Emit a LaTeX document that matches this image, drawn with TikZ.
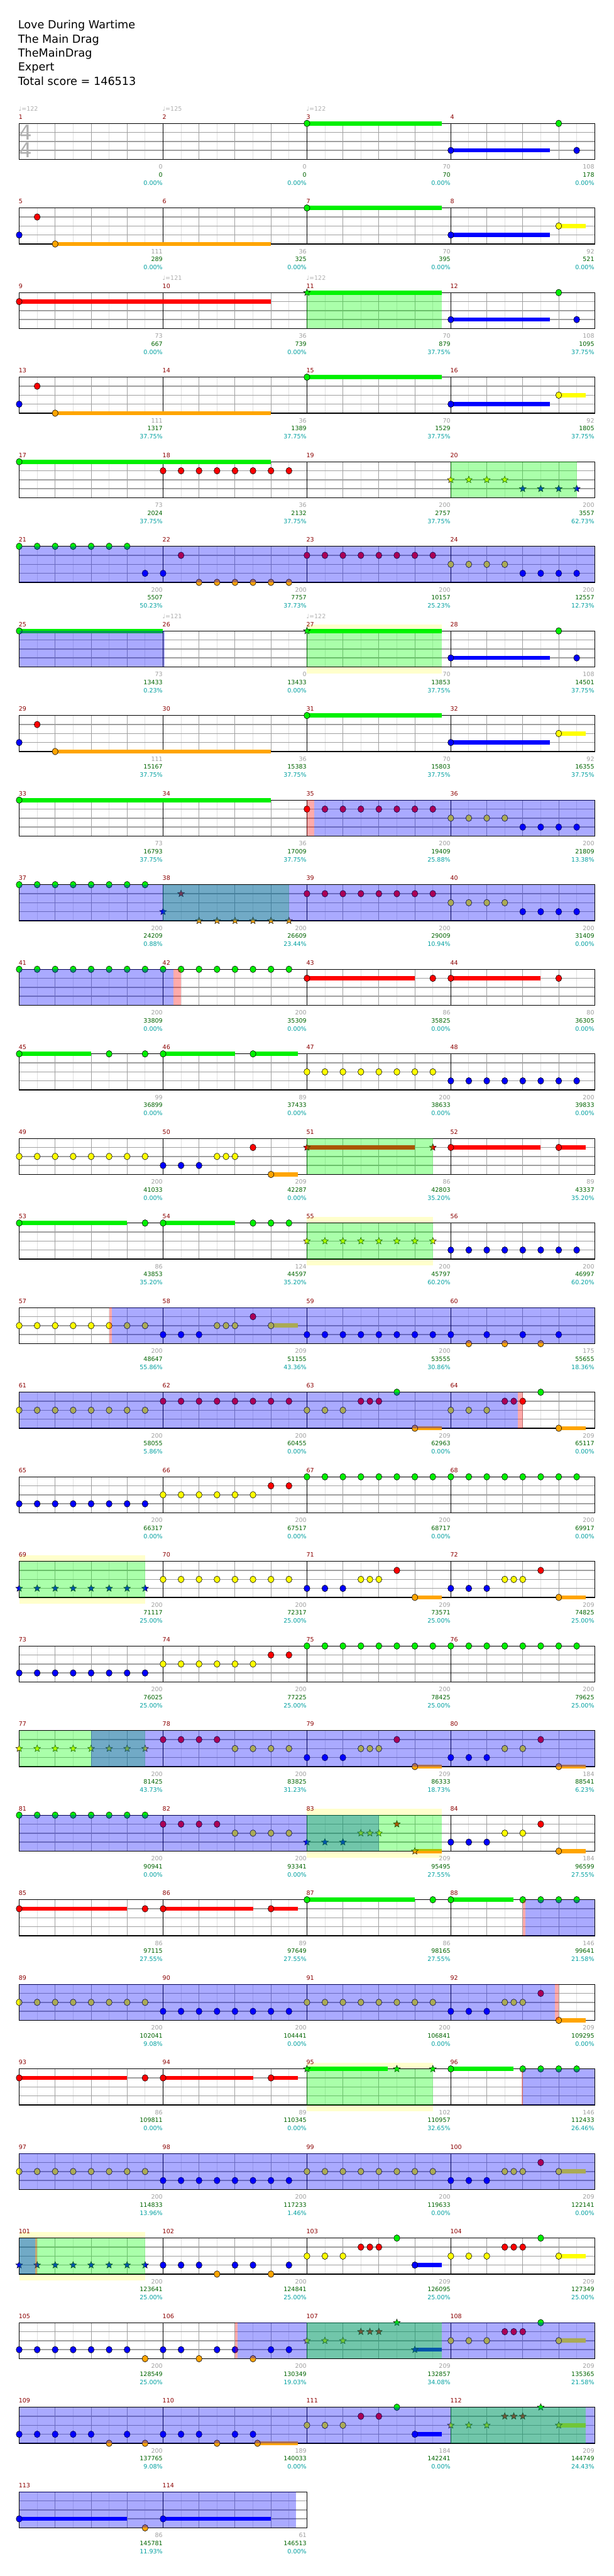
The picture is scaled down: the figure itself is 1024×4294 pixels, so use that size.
\documentclass[tikz,border=0pt]{standalone}
\usepackage{fontspec}
\setmainfont{DejaVu Sans}
\usetikzlibrary{shapes.geometric}
\definecolor{lane0}{RGB}{0,240,0}
\definecolor{lane1}{RGB}{255,0,0}
\definecolor{lane2}{RGB}{255,255,0}
\definecolor{lane3}{RGB}{0,0,255}
\definecolor{lane4}{RGB}{255,165,0}
\definecolor{spgreen}{RGB}{0,255,0}
\definecolor{spblue}{RGB}{0,0,255}
\definecolor{spred}{RGB}{255,0,0}
\definecolor{phrasebg}{RGB}{255,255,204}
\definecolor{gridlt}{RGB}{224,224,224}
\definecolor{gridmd}{RGB}{160,160,160}
\definecolor{barnum}{RGB}{139,0,0}
\definecolor{ptsgray}{RGB}{160,160,160}
\definecolor{totgreen}{RGB}{0,100,0}
\definecolor{pctteal}{RGB}{0,160,160}
\definecolor{sigray}{RGB}{175,175,175}

% staff of one row: row, measures
\newcommand{\drawstaff}[2]{%
  \pgfmathsetmacro\sty{205.7+141*#1}%
  \pgfmathsetmacro\stx{32+240*#2}%
  \pgfmathtruncatemacro\nk{8*#2-1}%
  \pgfmathtruncatemacro\nm{#2-1}%
  \fill[white] (32,\sty) rectangle (\stx,{\sty+60});
  \foreach \k in {1,3,...,\nk} \draw[eighth] ({32+30*\k},\sty) -- ++(0,60);
  \foreach \m in {1,...,#2} \foreach \b in {2,4,6} \draw[beat] ({32+240*(\m-1)+30*\b},\sty) -- ++(0,60);
  \foreach \l in {1,2,3} \draw[fretline] (32,{\sty+15*\l}) -- (\stx,{\sty+15*\l});
  \foreach \m in {1,...,\nm} \draw[barline] ({32+240*\m},\sty) -- ++(0,60);
  \draw[border] (32,\sty) rectangle (\stx,{\sty+60});
}
% notes: row, lane, positions in eighths
\newcommand{\frets}[3]{%
  \foreach \g in {#3} \draw[gem,fill=lane#2] ({32+30*\g},{205.7+141*#1+15*#2}) ellipse [x radius=5,y radius=5.5];}
\newcommand{\sfrets}[3]{%
  \foreach \g [count=\i] in {#3} \node[spstar,fill=lane#2] (star#1-#2-\i) at ({32+30*\g},{205.7+141*#1+15*#2}) {};}
% sustained notes: row, lane, start, length
\newcommand{\hold}[4]{%
  \fill[lane#2] ({32+30*#3},{202.2+141*#1+15*#2}) rectangle ++({30*#4},7);
  \frets{#1}{#2}{#3}}
\newcommand{\shold}[4]{%
  \fill[lane#2] ({32+30*#3},{202.2+141*#1+15*#2}) rectangle ++({30*#4},7);
  \sfrets{#1}{#2}{#3}}
\newcommand{\spzone}[4]{%
  \fill[#4,fill opacity=0.333] ({32+30*#2},{205.7+141*#1}) rectangle ({32+30*#3},{265.7+141*#1});}
\newcommand{\spphrase}[3]{%
  \fill[phrasebg] ({32+30*#2},{195+141*#1}) rectangle ({32+30*#3},{276.7+141*#1});}
% labels: row, list of measure score/total/meter
\newcommand{\barlabels}[2]{%
  \foreach \a/\b/\p [count=\c from 0] in {#2} {%
    \pgfmathtruncatemacro\mn{4*#1+\c+1}%
    \node[barno] (bar\mn) at ({31+240*\c},{198.3+141*#1}) {\mn};
    \node[pts] (pts\mn) at ({271.5+240*\c},{281.7+141*#1}) {\a};
    \node[tot] (tot\mn) at ({271.5+240*\c},{295+141*#1}) {\b};
    \node[pct] (pct\mn) at ({271.5+240*\c},{308.3+141*#1}) {\p\%};
  }}
\newcommand{\bpm}[3]{%
  \node[bpmmark] (bpm#1-#2) at ({31+240*#2},{185.3+141*#1}) {♩=#3};}

\begin{document}
\begin{tikzpicture}[x=1pt,y=-1pt,
  gem/.style={draw=black,line width=0.6pt},
  spstar/.style={star,star points=5,star point ratio=2.3,minimum size=12pt,inner sep=0pt,draw=black,line width=0.5pt},
  eighth/.style={draw=gridlt,line width=1pt},
  beat/.style={draw=gridmd,line width=1pt},
  fretline/.style={draw=gridmd,line width=1.5pt},
  barline/.style={draw=black,line width=0.8pt},
  border/.style={draw=black,line width=1.5pt},
  barno/.style={text=barnum,anchor=base west,inner sep=0pt,font=\fontsize{10}{12}\selectfont},
  pts/.style={text=ptsgray,anchor=base east,inner sep=0pt,font=\fontsize{10}{12}\selectfont},
  tot/.style={text=totgreen,anchor=base east,inner sep=0pt,font=\fontsize{10}{12}\selectfont},
  pct/.style={text=pctteal,anchor=base east,inner sep=0pt,font=\fontsize{10}{12}\selectfont},
  bpmmark/.style={text=sigray,anchor=base west,inner sep=0pt,font=\fontsize{10}{12}\selectfont},
  title/.style={anchor=base west,inner sep=0pt,font=\fontsize{18.5}{22}\selectfont},
  timesig/.style={text=sigray,inner sep=0pt,font=\fontsize{34}{34}\selectfont}]
\useasboundingbox (0,0) rectangle (1024,4294);
\fill[white] (0,0) rectangle (1024,4294);

\node[title] (song) at (30,48) {Love During Wartime};
\node[title] (artist) at (30,71.5) {The Main Drag};
\node[title] (charter) at (30,95) {TheMainDrag};
\node[title] (level) at (30,118.3) {Expert};
\node[title] (score) at (30,141.7) {Total score = 146513};

% row 1
\drawstaff{0}{4}
\node[timesig] (tsup) at (43,220.5) {4};
\node[timesig] (tsdown) at (43,250.5) {4};
\hold{0}{0}{16}{7.5} \frets{0}{0}{30}
\hold{0}{3}{24}{5.5} \frets{0}{3}{31}
\barlabels{0}{0/0/0.00, 0/0/0.00, 70/70/0.00, 108/178/0.00}
\bpm{0}{0}{122} \bpm{0}{1}{125} \bpm{0}{2}{122}

\drawstaff{1}{4}
\frets{1}{1}{1} \frets{1}{3}{0} \hold{1}{4}{2}{12}
\hold{1}{0}{16}{7.5} \hold{1}{3}{24}{5.5} \hold{1}{2}{30}{1.5}
\barlabels{1}{111/289/0.00, 36/325/0.00, 70/395/0.00, 92/521/0.00}

\drawstaff{2}{4}
\hold{2}{1}{0}{14}
\shold{2}{0}{16}{7.5} \frets{2}{0}{30}
\hold{2}{3}{24}{5.5} \frets{2}{3}{31}
\spzone{2}{16}{23.5}{spgreen}
\barlabels{2}{73/667/0.00, 36/739/0.00, 70/879/37.75, 108/1095/37.75}
\bpm{2}{1}{121} \bpm{2}{2}{122}

\drawstaff{3}{4}
\frets{3}{1}{1} \frets{3}{3}{0} \hold{3}{4}{2}{12}
\hold{3}{0}{16}{7.5} \hold{3}{3}{24}{5.5} \hold{3}{2}{30}{1.5}
\barlabels{3}{111/1317/37.75, 36/1389/37.75, 70/1529/37.75, 92/1805/37.75}

\drawstaff{4}{4}
\hold{4}{0}{0}{14} \frets{4}{1}{8,...,15}
\sfrets{4}{2}{24,...,27} \sfrets{4}{3}{28,...,31}
\spzone{4}{24}{31}{spgreen}
\barlabels{4}{73/2024/37.75, 36/2132/37.75, 200/2757/37.75, 200/3557/62.73}

\drawstaff{5}{4}
\frets{5}{0}{0,...,6} \frets{5}{3}{7,8} \frets{5}{1}{9} \frets{5}{4}{10,...,15}
\frets{5}{1}{16,...,23} \frets{5}{2}{24,...,27} \frets{5}{3}{28,...,31}
\spzone{5}{0}{32}{spblue}
\barlabels{5}{200/5507/50.23, 200/7757/37.73, 200/10157/25.23, 200/12557/12.73}

\spphrase{6}{16}{23.5}
\drawstaff{6}{4}
\hold{6}{0}{0}{8}
\shold{6}{0}{16}{7.5} \frets{6}{0}{30}
\hold{6}{3}{24}{5.5} \frets{6}{3}{31}
\spzone{6}{0}{8.1}{spblue} \spzone{6}{16}{23.5}{spgreen}
\barlabels{6}{73/13433/0.23, 0/13433/0.00, 70/13853/37.75, 108/14501/37.75}
\bpm{6}{1}{121} \bpm{6}{2}{122}

\drawstaff{7}{4}
\frets{7}{1}{1} \frets{7}{3}{0} \hold{7}{4}{2}{12}
\hold{7}{0}{16}{7.5} \hold{7}{3}{24}{5.5} \hold{7}{2}{30}{1.5}
\barlabels{7}{111/15167/37.75, 36/15383/37.75, 70/15803/37.75, 92/16355/37.75}

\drawstaff{8}{4}
\hold{8}{0}{0}{14}
\frets{8}{1}{16,...,23} \frets{8}{2}{24,...,27} \frets{8}{3}{28,...,31}
\spzone{8}{16}{16.4}{spred} \spzone{8}{16.4}{32}{spblue}
\barlabels{8}{73/16793/37.75, 36/17009/37.75, 200/19409/25.88, 200/21809/13.38}

\drawstaff{9}{4}
\frets{9}{0}{0,...,7} \sfrets{9}{3}{8} \sfrets{9}{1}{9} \sfrets{9}{4}{10,...,15}
\frets{9}{1}{16,...,23} \frets{9}{2}{24,...,27} \frets{9}{3}{28,...,31}
\spzone{9}{8}{15}{spgreen} \spzone{9}{0}{32}{spblue}
\barlabels{9}{200/24209/0.88, 200/26609/23.44, 200/29009/10.94, 200/31409/0.00}

\drawstaff{10}{4}
\frets{10}{0}{0,...,15}
\hold{10}{1}{16}{6} \frets{10}{1}{23} \hold{10}{1}{24}{5} \frets{10}{1}{30}
\spzone{10}{0}{8.57}{spblue} \spzone{10}{8.57}{9}{spred}
\barlabels{10}{200/33809/0.00, 200/35309/0.00, 86/35825/0.00, 80/36305/0.00}

\drawstaff{11}{4}
\hold{11}{0}{0}{4} \frets{11}{0}{5,7} \hold{11}{0}{8}{4} \hold{11}{0}{13}{2.5}
\frets{11}{2}{16,...,23} \frets{11}{3}{24,...,31}
\barlabels{11}{99/36899/0.00, 89/37433/0.00, 200/38633/0.00, 200/39833/0.00}

\drawstaff{12}{4}
\frets{12}{2}{0,...,7} \frets{12}{3}{8,9,10} \frets{12}{2}{11,11.5,12} \frets{12}{1}{13} \hold{12}{4}{14}{1.5}
\shold{12}{1}{16}{6} \sfrets{12}{1}{23} \hold{12}{1}{24}{5} \hold{12}{1}{30}{1.5}
\spzone{12}{16}{23}{spgreen}
\barlabels{12}{200/41033/0.00, 209/42287/0.00, 86/42803/35.20, 89/43337/35.20}

\spphrase{13}{16}{23}
\drawstaff{13}{4}
\hold{13}{0}{0}{6} \frets{13}{0}{7} \hold{13}{0}{8}{4} \frets{13}{0}{13,14,15}
\sfrets{13}{2}{16,...,23} \frets{13}{3}{24,...,31}
\spzone{13}{16}{23}{spgreen}
\barlabels{13}{86/43853/35.20, 124/44597/35.20, 200/45797/60.20, 200/46997/60.20}

\drawstaff{14}{4}
\frets{14}{2}{0,...,7} \frets{14}{3}{8,9,10} \frets{14}{2}{11,11.5,12} \frets{14}{1}{13} \hold{14}{2}{14}{1.5}
\frets{14}{3}{16,...,24} \frets{14}{3}{26,28,30} \frets{14}{4}{25,27,29}
\spzone{14}{5}{5.17}{spred} \spzone{14}{5.17}{32}{spblue}
\barlabels{14}{200/48647/55.86, 209/51155/43.36, 200/53555/30.86, 175/55655/18.36}

\drawstaff{15}{4}
\frets{15}{2}{0,...,7} \frets{15}{1}{8,...,15}
\frets{15}{2}{16,17,18} \frets{15}{1}{19,19.5,20} \frets{15}{0}{21} \hold{15}{4}{22}{1.5}
\frets{15}{2}{24,25,26} \frets{15}{1}{27,27.5,28} \frets{15}{0}{29} \hold{15}{4}{30}{1.5}
\spzone{15}{0}{27.74}{spblue} \spzone{15}{27.74}{28}{spred}
\barlabels{15}{200/58055/5.86, 200/60455/0.00, 209/62963/0.00, 209/65117/0.00}

\drawstaff{16}{4}
\frets{16}{3}{0,...,7} \frets{16}{2}{8,...,13} \frets{16}{1}{14,15} \frets{16}{0}{16,...,31}
\barlabels{16}{200/66317/0.00, 200/67517/0.00, 200/68717/0.00, 200/69917/0.00}

\spphrase{17}{0}{7}
\drawstaff{17}{4}
\sfrets{17}{3}{0,...,7} \frets{17}{2}{8,...,15}
\frets{17}{3}{16,17,18} \frets{17}{2}{19,19.5,20} \frets{17}{1}{21} \hold{17}{4}{22}{1.5}
\frets{17}{3}{24,25,26} \frets{17}{2}{27,27.5,28} \frets{17}{1}{29} \hold{17}{4}{30}{1.5}
\spzone{17}{0}{7}{spgreen}
\barlabels{17}{200/71117/25.00, 200/72317/25.00, 209/73571/25.00, 209/74825/25.00}

\drawstaff{18}{4}
\frets{18}{3}{0,...,7} \frets{18}{2}{8,...,13} \frets{18}{1}{14,15} \frets{18}{0}{16,...,31}
\barlabels{18}{200/76025/25.00, 200/77225/25.00, 200/78425/25.00, 200/79625/25.00}

\drawstaff{19}{4}
\sfrets{19}{2}{0,...,7} \frets{19}{1}{8,...,11} \frets{19}{2}{12,...,15}
\frets{19}{3}{16,17,18} \frets{19}{2}{19,19.5,20} \frets{19}{1}{21} \hold{19}{4}{22}{1.5}
\frets{19}{3}{24,25,26} \frets{19}{2}{27,28} \frets{19}{1}{29} \hold{19}{4}{30}{1.5}
\spzone{19}{0}{7}{spgreen} \spzone{19}{4}{32}{spblue}
\barlabels{19}{200/81425/43.73, 200/83825/31.23, 209/86333/18.73, 184/88541/6.23}

\spphrase{20}{16}{23.5}
\drawstaff{20}{4}
\frets{20}{0}{0,...,7} \frets{20}{1}{8,...,11} \frets{20}{2}{12,...,15}
\sfrets{20}{3}{16,17,18} \sfrets{20}{2}{19,19.5,20} \sfrets{20}{1}{21} \shold{20}{4}{22}{1.5}
\frets{20}{3}{24,25,26} \frets{20}{2}{27,28} \frets{20}{1}{29} \hold{20}{4}{30}{1.5}
\spzone{20}{0}{20}{spblue} \spzone{20}{16}{23.5}{spgreen}
\barlabels{20}{200/90941/0.00, 200/93341/0.00, 209/95495/27.55, 184/96599/27.55}

\drawstaff{21}{4}
\hold{21}{1}{0}{6} \frets{21}{1}{7} \hold{21}{1}{8}{5} \hold{21}{1}{14}{1.5}
\hold{21}{0}{16}{6} \frets{21}{0}{23} \hold{21}{0}{24}{3.5} \frets{21}{0}{28,...,31}
\spzone{21}{28}{28.13}{spred} \spzone{21}{28.13}{32}{spblue}
\barlabels{21}{86/97115/27.55, 89/97649/27.55, 86/98165/27.55, 146/99641/21.58}

\drawstaff{22}{4}
\frets{22}{2}{0,...,7} \frets{22}{3}{8,...,15} \frets{22}{2}{16,...,23}
\frets{22}{3}{24,25,26} \frets{22}{2}{27,27.5,28} \frets{22}{1}{29} \hold{22}{4}{30}{1.5}
\spzone{22}{0}{29.8}{spblue} \spzone{22}{29.8}{30}{spred}
\barlabels{22}{200/102041/9.08, 200/104441/0.00, 200/106841/0.00, 209/109295/0.00}

\spphrase{23}{16}{23}
\drawstaff{23}{4}
\hold{23}{1}{0}{6} \frets{23}{1}{7} \hold{23}{1}{8}{5} \hold{23}{1}{14}{1.5}
\shold{23}{0}{16}{4.5} \sfrets{23}{0}{21,23} \hold{23}{0}{24}{3.5} \frets{23}{0}{28,...,31}
\spzone{23}{16}{23}{spgreen} \spzone{23}{27.93}{28}{spred} \spzone{23}{28}{32}{spblue}
\barlabels{23}{86/109811/0.00, 89/110345/0.00, 102/110957/32.65, 146/112433/26.46}

\drawstaff{24}{4}
\frets{24}{2}{0,...,7} \frets{24}{3}{8,...,15} \frets{24}{2}{16,...,23}
\frets{24}{3}{24,25,26} \frets{24}{2}{27,27.5,28} \frets{24}{1}{29} \hold{24}{2}{30}{1.5}
\spzone{24}{0}{32}{spblue}
\barlabels{24}{200/114833/13.96, 200/117233/1.46, 200/119633/0.00, 209/122141/0.00}

\spphrase{25}{0}{7}
\drawstaff{25}{4}
\sfrets{25}{3}{0,...,7} \frets{25}{3}{8,9,10,12,13,15} \frets{25}{4}{11,14}
\frets{25}{2}{16,17,18} \frets{25}{1}{19,19.5,20} \frets{25}{0}{21} \hold{25}{3}{22}{1.5}
\frets{25}{2}{24,25,26} \frets{25}{1}{27,27.5,28} \frets{25}{0}{29} \hold{25}{2}{30}{1.5}
\spzone{25}{0}{7}{spgreen} \spzone{25}{0}{0.9}{spblue} \spzone{25}{0.9}{1}{spred}
\barlabels{25}{200/123641/25.00, 200/124841/25.00, 209/126095/25.00, 209/127349/25.00}

\drawstaff{26}{4}
\frets{26}{3}{0,...,6} \frets{26}{4}{7} \frets{26}{3}{8,9,11,12,14,15} \frets{26}{4}{10,13}
\sfrets{26}{2}{16,17,18} \sfrets{26}{1}{19,19.5,20} \sfrets{26}{0}{21} \shold{26}{3}{22}{1.5}
\frets{26}{2}{24,25,26} \frets{26}{1}{27,27.5,28} \frets{26}{0}{29} \hold{26}{2}{30}{1.5}
\spzone{26}{12}{12.13}{spred} \spzone{26}{12.13}{32}{spblue} \spzone{26}{16}{23.5}{spgreen}
\barlabels{26}{200/128549/25.00, 200/130349/19.03, 209/132857/34.08, 209/135365/21.58}

\drawstaff{27}{4}
\frets{27}{3}{0,...,4} \frets{27}{4}{5,7} \frets{27}{3}{6}
\frets{27}{3}{8,9,10,12,13} \frets{27}{4}{11} \hold{27}{4}{13.25}{2.25}
\frets{27}{2}{16,17,18} \frets{27}{1}{19,20} \frets{27}{0}{21} \hold{27}{3}{22}{1.5}
\sfrets{27}{2}{24,25,26} \sfrets{27}{1}{27,27.5,28} \sfrets{27}{0}{29} \shold{27}{2}{30}{1.5}
\spzone{27}{0}{32}{spblue} \spzone{27}{24}{31.5}{spgreen}
\barlabels{27}{200/137765/9.08, 189/140033/0.00, 184/142241/0.00, 209/144749/24.43}

\drawstaff{28}{2}
\hold{28}{3}{0}{6} \frets{28}{4}{7} \hold{28}{3}{8}{6}
\spzone{28}{0}{15.4}{spblue}
\barlabels{28}{86/145781/11.93, 61/146513/0.00}
\end{tikzpicture}
\end{document}
